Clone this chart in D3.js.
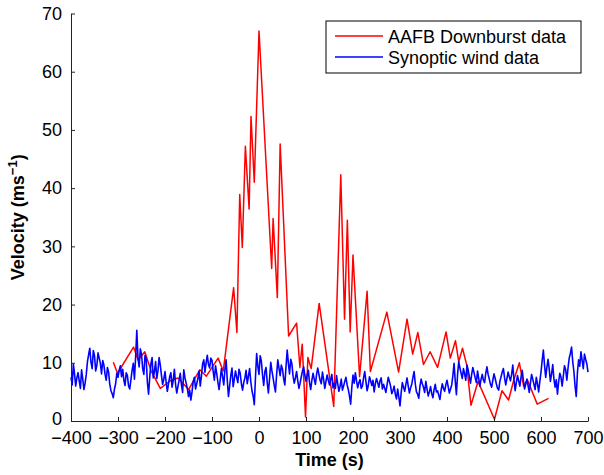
<!DOCTYPE html>
<html>
<head>
<meta charset="utf-8">
<script src="https://cdn.jsdelivr.net/npm/d3@7"></script>
<style>
  body { margin: 0; background: #fff; }
  svg text { font-family: "Liberation Sans", Arial, sans-serif; fill: #000; }
</style>
</head>
<body>
<div id="chart"></div>
<script>
/* DATA */
// AAFB downburst record (time in s, velocity in m/s)
const redTime = [-310, -301, -267, -257, -243, -230, -210, -187, -172, -150, -126, -112, -87, -76,
  -54, -47, -41, -35.5, -29, -21, -17, -10, 0, 27, 30, 39, 45, 63, 80, 87, 92, 99, 104, 111,
  128, 159, 174, 182, 188, 194, 200, 214, 230, 237, 272, 297, 315, 327, 338, 350, 364, 380,
  398, 407, 418, 425, 433, 442, 451, 466, 501, 517, 531, 542, 554, 563, 571, 592, 616];
const redVelocity = [10.1, 8.2, 12.7, 10.5, 11.9, 8.7, 5.6, 7.0, 7.4, 5.4, 8.8, 7.7, 10.8, 8.6,
  22.9, 15.2, 38.9, 29.8, 47.2, 36.4, 52.3, 41.0, 67.0, 26.2, 34.8, 21.2, 47.6, 14.6, 16.8, 9.2, 13.2, 0.7, 10.9, 9.0,
  20.2, 2.5, 42.3, 17.5, 34.5, 15.3, 28.5, 7.6, 22.3, 8.5, 18.7, 8.4, 17.5, 11.5, 15.2, 9.7, 11.9, 9.2,
  15.3, 10.8, 13.8, 10.2, 12.5, 9.6, 2.7, 6.8, 0.3, 5.2, 3.6, 7.0, 10.0, 6.0, 7.1, 2.9, 3.9];

// synoptic wind record, one reading every 2.5 s from -400 s
const blueStart = -400, blueStep = 2.5;
const blueVelocity = [
  // -400 .. -212.5
  7.5, 6.2, 9.8, 8.1, 6.0, 7.4, 8.3, 6.9, 5.6, 8.8, 7.2, 5.4, 6.5, 8.0, 10.2, 11.4, 12.5, 10.1, 9.0, 12.1,
  11.2, 8.6, 9.5, 11.7, 10.8, 9.9, 8.1, 10.4, 9.6, 8.0, 7.0, 9.2, 8.4, 6.3, 5.2, 4.7, 4.0, 5.5, 6.4, 8.2,
  7.5, 8.7, 9.5, 7.6, 8.9, 7.0, 6.1, 8.3, 7.8, 6.0, 5.5, 7.1, 8.7, 9.9, 7.2, 11.0, 15.6, 10.8, 9.3, 12.4,
  11.5, 9.0, 8.0, 11.3, 10.6, 6.7, 4.6, 7.5, 9.8, 10.9, 7.4, 8.5, 10.2, 7.3, 8.6, 10.9,
  // -210 .. -27.5
  9.6, 7.8, 6.3, 7.2, 8.5, 6.6, 5.1, 6.4, 7.6, 8.3, 5.8, 7.0, 8.9, 6.3, 4.8, 5.9, 7.0, 8.2, 6.2, 4.9,
  8.8, 7.4, 6.5, 5.6, 4.2, 5.3, 3.6, 5.0, 6.8, 7.5, 5.5, 6.4, 7.3, 8.6, 6.0, 7.7, 9.8, 10.5, 8.4, 10.0,
  11.3, 9.7, 9.1, 10.8, 10.4, 8.5, 7.0, 9.5, 8.2, 6.7, 5.4, 7.1, 9.0, 7.6, 6.2, 8.8, 10.5, 7.0, 4.2, 6.0,
  7.8, 9.1, 5.9, 7.2, 8.6, 7.5, 6.6, 8.9, 8.2, 6.4, 5.3, 6.6, 7.4, 8.7,
  // -25 .. 157.5
  6.4, 7.7, 9.0, 6.8, 5.2, 4.3, 2.8, 7.5, 11.6, 9.4, 8.0, 11.2, 10.3, 7.9, 6.1, 8.5, 9.2, 6.6, 4.8, 7.3,
  10.1, 8.6, 7.4, 6.1, 5.0, 8.0, 10.5, 9.1, 7.8, 9.6, 8.9, 7.2, 6.2, 9.4, 12.2, 9.9, 8.1, 10.6, 9.8, 7.7,
  6.5, 7.4, 8.5, 6.9, 5.6, 6.5, 7.6, 8.6, 9.3, 7.9, 6.8, 7.9, 8.7, 6.6, 5.4, 7.0, 8.2, 7.2, 6.3, 8.0,
  9.1, 8.0, 7.0, 6.4, 8.4, 7.1, 5.6, 6.8, 7.9, 7.0, 6.2, 7.1, 8.0, 5.7,
  // 160 .. 347.5
  6.5, 5.6, 7.8, 6.4, 5.1, 6.0, 7.2, 5.3, 6.0, 6.8, 7.5, 6.2, 5.4, 4.3, 2.9, 5.8, 7.9, 6.5, 8.3, 6.9,
  5.7, 6.6, 7.1, 5.6, 6.0, 7.4, 8.5, 6.8, 5.2, 6.1, 7.6, 6.9, 6.1, 7.0, 5.0, 6.4, 7.3, 6.6, 5.8, 6.9,
  7.4, 5.5, 6.3, 5.6, 4.9, 6.2, 7.5, 6.8, 6.0, 4.7, 5.2, 6.0, 4.6, 3.8, 5.5, 4.1, 2.6, 4.9, 6.6, 5.8,
  5.1, 6.3, 7.4, 6.0, 4.8, 5.7, 6.3, 7.5, 8.5, 6.4, 5.0, 4.6, 3.9, 6.0, 7.2, 6.4,
  // 350 .. 532.5
  5.8, 4.9, 6.8, 5.5, 4.3, 5.0, 5.9, 4.7, 4.0, 5.4, 6.3, 5.0, 5.2, 4.4, 3.7, 5.3, 6.4, 5.6, 5.1, 6.2,
  7.0, 5.9, 4.8, 5.5, 6.2, 7.8, 9.9, 6.9, 4.5, 8.0, 10.2, 9.1, 8.2, 7.3, 9.0, 8.1, 7.0, 9.6, 8.8, 7.6,
  6.5, 8.0, 9.2, 8.3, 7.4, 6.6, 8.6, 7.3, 6.0, 7.2, 8.0, 7.0, 6.6, 8.2, 9.3, 8.0, 7.2, 6.3, 5.8, 7.0,
  8.1, 7.3, 6.4, 5.6, 5.3, 6.8, 7.6, 8.4, 9.0, 7.4, 6.2, 7.3, 8.4, 7.6,
  // 535 .. 700
  6.9, 8.0, 9.6, 7.1, 5.2, 6.6, 7.8, 6.9, 6.0, 7.5, 8.7, 7.0, 5.5, 6.3, 7.2, 6.1, 4.9, 6.5, 8.0, 7.2,
  6.3, 5.4, 7.5, 6.4, 5.0, 6.8, 8.4, 10.4, 12.2, 9.6, 7.5, 9.2, 10.6, 8.9, 6.8, 8.1, 9.7, 7.2, 5.8, 7.1,
  4.6, 6.7, 8.2, 7.5, 6.0, 7.7, 9.5, 8.8, 7.0, 9.1, 10.8, 11.6, 12.7, 10.2, 8.5, 6.0, 4.2, 8.3, 10.5, 9.4,
  11.9, 10.4, 9.0, 11.5, 10.6, 9.8, 8.4];

const xTicks = [-400, -300, -200, -100, 0, 100, 200, 300, 400, 500, 600, 700];
const yTicks = [0, 10, 20, 30, 40, 50, 60, 70];
const seriesNames = ["AAFB Downburst data", "Synoptic wind data"];
const seriesColors = ["#ff0000", "#0000ff"];

/* LAYOUT */
const width = 604, height = 475;
const margin = { top: 13.5, bottom: 54, left: 71, right: 16 };

const svg = d3.select("#chart").append("svg")
  .attr("width", width)
  .attr("height", height);

const xScale = d3.scaleLinear().domain([-400, 700]).range([margin.left, width - margin.right]);
const yScale = d3.scaleLinear().domain([0, 70]).range([height - margin.bottom, margin.top]);

const redData = redTime.map((t, i) => ({ t, v: redVelocity[i] }));
const blueData = blueVelocity.map((v, i) => ({ t: blueStart + i * blueStep, v }))
  .filter(d => d.t <= 700);

const line = d3.line().x(d => xScale(d.t)).y(d => yScale(d.v));

// red first, blue drawn on top
svg.append("path").datum(redData)
  .attr("d", line).attr("fill", "none")
  .attr("stroke", seriesColors[0]).attr("stroke-width", 1.5).attr("stroke-linejoin", "round");

svg.append("path").datum(blueData)
  .attr("d", line).attr("fill", "none")
  .attr("stroke", seriesColors[1]).attr("stroke-width", 1.6).attr("stroke-linejoin", "round");

/* AXES (ticks inward, like matlab) */
const xAxis = d3.axisBottom(xScale).tickValues(xTicks).tickSize(-4).tickPadding(10).tickSizeOuter(0);
const yAxis = d3.axisLeft(yScale).tickValues(yTicks).tickSize(-4).tickPadding(9).tickSizeOuter(0);

const gx = svg.append("g")
  .attr("transform", `translate(0, ${height - margin.bottom})`)
  .call(xAxis);
const gy = svg.append("g")
  .attr("transform", `translate(${margin.left}, 0)`)
  .call(yAxis);

[gx, gy].forEach(g => {
  g.select(".domain").attr("stroke", "#222").attr("stroke-width", 1);
  g.selectAll(".tick line").attr("stroke", "#222");
  g.selectAll(".tick text").attr("font-size", 18).attr("font-family", "Liberation Sans, Arial, sans-serif").attr("fill", "#000");
});
// lift the "0" on the y axis a touch so it clears the "-400" below it
gy.selectAll(".tick text").filter(d => d === 0).attr("dy", "0.22em");

// axis titles
svg.append("text")
  .attr("x", xScale(150)).attr("y", 466)
  .attr("text-anchor", "middle").attr("font-size", 18).attr("font-weight", "bold")
  .text("Time (s)");

const yTitle = svg.append("text")
  .attr("transform", `translate(24, ${(yScale(0) + yScale(70)) / 2}) rotate(-90)`)
  .attr("text-anchor", "middle").attr("font-size", 18).attr("font-weight", "bold");
yTitle.append("tspan").text("Velocity (ms");
yTitle.append("tspan").attr("dy", -7).attr("font-size", 13).text("−1");
yTitle.append("tspan").attr("dy", 7).text(")");

/* LEGEND */
const legend = svg.append("g").attr("transform", "translate(326, 21)");
legend.append("rect")
  .attr("width", 255).attr("height", 52)
  .attr("fill", "#fff").attr("stroke", "#000").attr("stroke-width", 1);

seriesNames.forEach((name, i) => {
  const y = 15 + i * 21;
  legend.append("line")
    .attr("x1", 9).attr("x2", 57).attr("y1", y).attr("y2", y)
    .attr("stroke", seriesColors[i]).attr("stroke-width", 1.5);
  legend.append("text")
    .attr("x", 62).attr("y", y + 6.5)
    .attr("font-size", 18)
    .text(name);
});
</script>
</body>
</html>
